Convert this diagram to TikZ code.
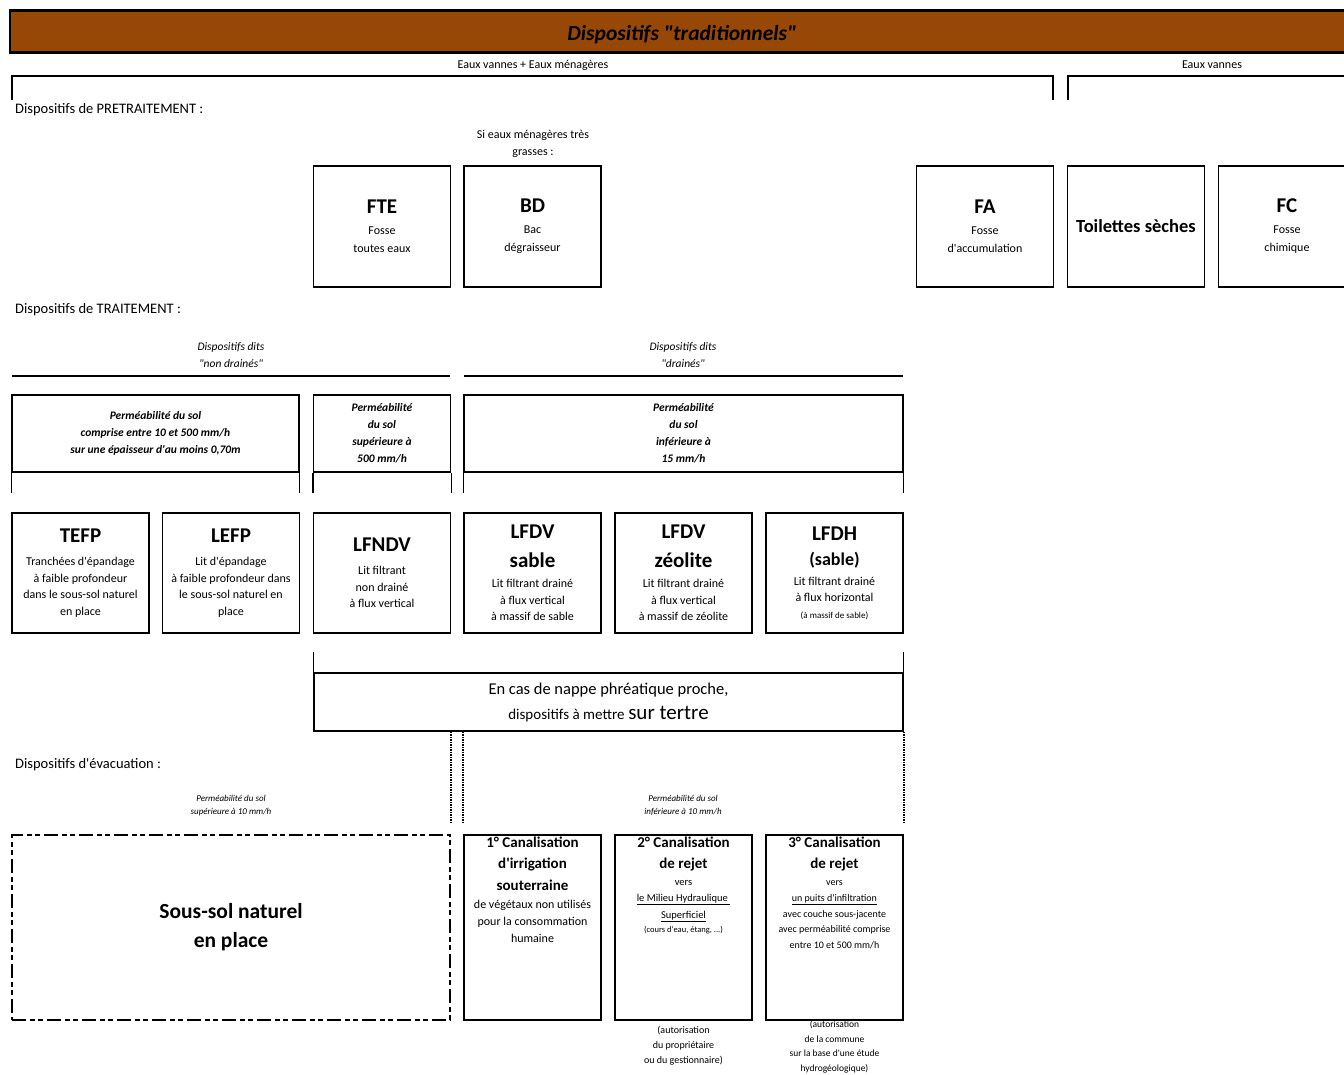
\documentclass[tikz,border=0pt]{standalone}
\usepackage{fontspec}
\setmainfont{Carlito}[Ligatures=TeXOff]
\usetikzlibrary{positioning}

\newcommand{\fsz}[2]{\fontsize{#1}{#2}\selectfont}
\newcommand{\devtitle}{\fsz{21}{25}\bfseries}
\newcommand{\cantitle}{\fsz{15}{17}\bfseries}

\tikzset{
  cell/.style={draw=black,line width=1.3pt,minimum width=137pt,inner sep=1pt,align=center},
  pretbox/.style={cell,minimum height=121pt,font=\fsz{12}{18}},
  devbox/.style={cell,minimum height=120pt,font=\fsz{12}{16.5}},
  permbox/.style={cell,minimum height=77pt,font=\fsz{11.5}{17}\bfseries\itshape},
  canbox/.style={cell,minimum height=185pt},
  cantext/.style={anchor=north,inner sep=2pt,align=center,font=\fsz{12}{17}},
  authnote/.style={align=center,inner sep=0pt,font=\fsz{10}{15.2}},
  lbl/.style={align=center,inner sep=0pt,font=\fsz{12}{17}},
  ilbl/.style={lbl,font=\fsz{11.5}{17}\itshape},
  permnote/.style={align=center,inner sep=0pt,font=\fsz{9}{13}\itshape},
  sect/.style={anchor=west,inner sep=0pt,font=\fsz{14.5}{17}},
  bracket/.style={draw=black,line width=1.3pt},
  hrule/.style={draw=black,line width=2pt},
  leg/.style={draw=black,line width=1.3pt},
  dotline/.style={draw=black,line width=2.2pt,dash pattern=on 1.5pt off 1pt},
}

\begin{document}
\begin{tikzpicture}[x=1pt,y=-1pt]
%
\useasboundingbox (0,0) rectangle (1344,1075);
%
\definecolor{cbar}{RGB}{151,72,6}
%
\node[draw=black,line width=2.6pt,fill=cbar,minimum width=1344pt,minimum height=42pt,inner sep=0pt,text height=21pt,text depth=3pt,font=\fsz{21.5}{25}\bfseries\itshape] (bar) at (682,31.5) {Dispositifs "traditionnels"};
%
\node[lbl] (evm) at (533,65) {Eaux vannes + Eaux ménagères};
\node[lbl] (ev) at (1212,65) {Eaux vannes};
\draw[bracket] (12,100) |- (1053,76) -- (1053,100);
\draw[bracket] (1068,100) |- (1350,76);
%
\node[sect] (pretr) at (15,110) {Dispositifs de PRETRAITEMENT :};
\node[lbl] (gras) at (533,143.5) {Si eaux ménagères très\\grasses :};
%
\node[pretbox] (fte) at (382,226.5) {{\devtitle FTE}\\[3pt]Fosse\\toutes eaux};
\node[pretbox] (bd) at (532.5,226.5) {{\devtitle BD}\\[3pt]Bac\\dégraisseur};
\node[pretbox] (fa) at (985,226.5) {{\devtitle FA}\\[3pt]Fosse\\d'accumulation};
\node[pretbox,font=\fsz{18.5}{22}\bfseries] (ts) at (1136,226.5) {Toilettes sèches};
\node[pretbox] (fc) at (1287,226.5) {{\devtitle FC}\\[3pt]Fosse\\chimique};
%
\node[sect] (trt) at (15,310) {Dispositifs de TRAITEMENT :};
\node[ilbl] (nondr) at (231,355.5) {Dispositifs dits\\"non drainés"};
\node[ilbl] (dr) at (683,355.5) {Dispositifs dits\\"drainés"};
\draw[hrule] (12,376) -- (450,376);
\draw[hrule] (464,376) -- (903,376);
%
\node[permbox,minimum width=287pt] (permA) at (155.5,433.5) {Perméabilité du sol\\comprise entre 10 et 500 mm/h\\sur une épaisseur d'au moins 0,70m};
\node[permbox] (permB) at (382,433.5) {Perméabilité\\du sol\\supérieure à\\500 mm/h};
\node[permbox,minimum width=439pt] (permC) at (683.5,433.5) {Perméabilité\\du sol\\inférieure à\\15 mm/h};
\foreach \p in {permA,permB,permC}
  \draw[leg] (\p.south west) -- ++(0,20) (\p.south east) -- ++(0,20);
%
\node[devbox] (tefp) at (80.5,573) {{\devtitle TEFP}\\[6.5pt]Tranchées d'épandage\\à faible profondeur\\dans le sous-sol naturel\\en place};
\node[devbox] (lefp) at (231,573) {{\devtitle LEFP}\\[6.5pt]Lit d'épandage\\à faible profondeur dans\\le sous-sol naturel en\\place};
\node[devbox] (lfndv) at (382,573) {{\devtitle LFNDV}\\[6.5pt]Lit filtrant\\non drainé\\à flux vertical};
\node[devbox] (lfdvs) at (532.5,573) {{\devtitle LFDV}\\[12.5pt]{\devtitle sable}\\[3.5pt]Lit filtrant drainé\\à flux vertical\\à massif de sable};
\node[devbox] (lfdvz) at (683.5,573) {{\devtitle LFDV}\\[12.5pt]{\devtitle zéolite}\\[3.5pt]Lit filtrant drainé\\à flux vertical\\à massif de zéolite};
\node[devbox] (lfdh) at (834.5,573) {{\devtitle LFDH}\\[8.5pt]{\fsz{18}{22}\bfseries (sable)}\\[3.5pt]Lit filtrant drainé\\à flux horizontal\\{\fsz{9}{11}(à massif de sable)}};
%
\node[cell,minimum width=589pt,minimum height=58pt,font=\fsz{16.5}{25}] (tertre) at (608.5,702) {En cas de nappe phréatique proche,\\{\fsz{15}{18}dispositifs à mettre} {\fsz{21}{25}sur tertre}};
\draw[leg] (tertre.north west) -- ++(0,-20) (tertre.north east) -- ++(0,-20);
\draw[dotline] (lfndv.east |- tertre.south) -- ++(0,91);
\draw[dotline] (lfdvs.west |- tertre.south) -- ++(0,91);
\draw[dotline] (tertre.south east) -- ++(0,91);
%
\node[sect] (evac) at (15,765) {Dispositifs d'évacuation :};
\node[permnote] (psup) at (231,805.5) {Perméabilité du sol\\supérieure à 10 mm/h};
\node[permnote] (pinf) at (683,805.5) {Perméabilité du sol\\inférieure à 10 mm/h};
%
\node[cell,line width=2pt,dash pattern=on 14pt off 4pt on 5pt off 3pt on 5pt off 4pt,minimum width=438pt,minimum height=185pt,font=\fsz{21.5}{29}\bfseries] (sssol) at (231,927.5) {Sous-sol naturel\\en place};
%
\node[canbox] (can1) at (532.5,927.5) {};
\node[canbox] (can2) at (683.5,927.5) {};
\node[canbox] (can3) at (834.5,927.5) {};
\node[cantext] (can1t) at (can1.north) {{\cantitle 1° Canalisation}\\[4.5pt]{\cantitle d'irrigation}\\[4.5pt]{\cantitle souterraine}\\[1pt]de végétaux non utilisés\\pour la consommation\\humaine};
\node[cantext,font=\fsz{10.5}{16.5}] (can2t) at (can2.north) {{\cantitle 2° Canalisation}\\[5pt]{\cantitle de rejet}\\vers\\\underline{le Milieu Hydraulique\ }\\\underline{Superficiel}\\[-2pt]{\fsz{8.5}{11}(cours d'eau, étang, ...)}};
\node[cantext,font=\fsz{10}{15.5}] (can3t) at (can3.north) {{\cantitle 3° Canalisation}\\[6pt]{\cantitle de rejet}\\[1pt]vers\\[1pt]\underline{un puits d'infiltration}\\avec couche sous-jacente\\avec perméabilité comprise\\entre 10 et 500 mm/h};
%
\node[authnote,below=5pt of can2] (aut2) {(autorisation\\du propriétaire\\ou du gestionnaire)};
\node[authnote,below=0pt of can3,font=\fsz{9.5}{14.5}] (aut3) {(autorisation\\de la commune\\sur la base d'une étude\\hydrogéologique)};
%
\end{tikzpicture}
\end{document}
